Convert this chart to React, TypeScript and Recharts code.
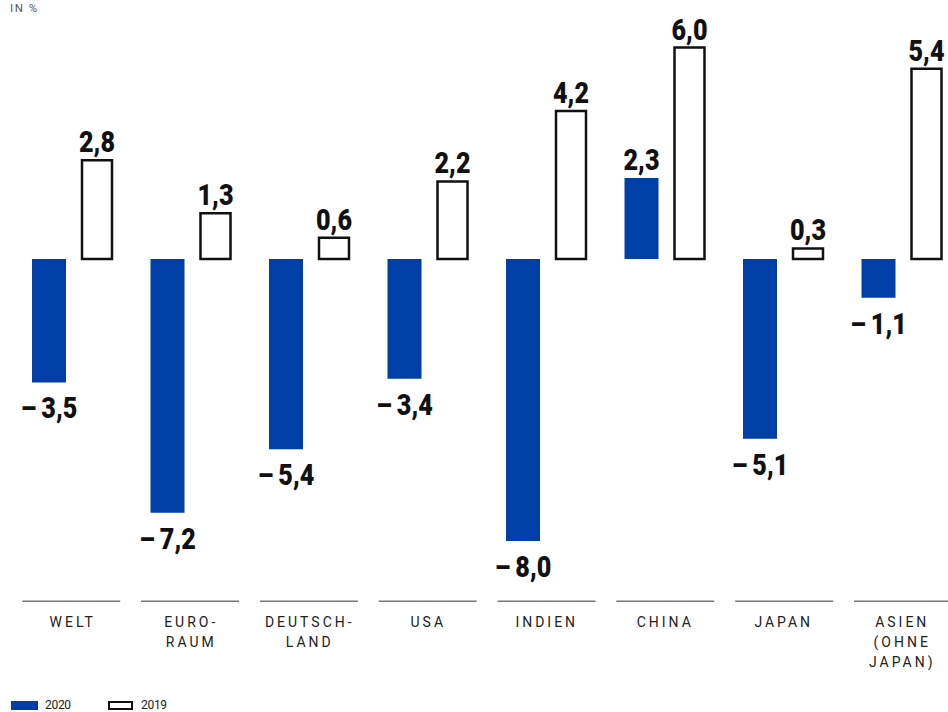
import React from 'react';
import { BarChart, Bar, XAxis, YAxis, Legend, LabelList } from 'recharts';

const categories = ['WELT', 'EURO-\nRAUM', 'DEUTSCH-\nLAND', 'USA', 'INDIEN', 'CHINA', 'JAPAN', 'ASIEN\n(OHNE\nJAPAN)'];
const values2020 = [-3.5, -7.2, -5.4, -3.4, -8.0, 2.3, -5.1, -1.1];
const values2019 = [2.8, 1.3, 0.6, 2.2, 4.2, 6.0, 0.3, 5.4];
const seriesNames = ['2020', '2019'];

const BLUE = '#003fa6';
const FONT = 'Roboto, "Liberation Sans", sans-serif';

const data = categories.map((c, i) => ({ name: c, v2020: values2020[i], v2019: values2019[i] }));

const fmt = (v: number) => {
  const s = Math.abs(v).toFixed(1).replace('.', ',');
  return v < 0 ? '\u2013\u2009' + s : s;
};

// value label above positive bars, below negative ones (squeezed to look condensed)
const ValueLabel = (props: any) => {
  const { x, y, width, height, value } = props;
  const top = Math.min(y, y + height);
  const bottom = Math.max(y, y + height);
  const cx = x + width / 2;
  const ty = value < 0 ? bottom + 36 : top - 8;
  return (
    <g transform={`translate(${cx},${ty}) scale(0.84,1)`}>
      <text x={0} y={0} textAnchor="middle" fontFamily={FONT} fontWeight={900} fontSize={30} fill="#111">
        {fmt(value)}
      </text>
    </g>
  );
};

const CategoryTick = (props: any) => {
  const { x, y, payload, index } = props;
  const lines = String(payload.value).split('\n');
  const dx = (index || 0) * 0.32; // separators sit on a slightly wider pitch than the bars
  return (
    <g>
      <line x1={x - 50 + dx} x2={x + 48 + dx} y1={y + 25} y2={y + 25} stroke="#777" strokeWidth={1.5} />
      {lines.map((l, i) => (
        <text key={i} x={x + 0.5} y={y + 51 + i * 20} textAnchor="middle" fontFamily={FONT} fontSize={14} letterSpacing={3} fill="#222">
          {l}
        </text>
      ))}
    </g>
  );
};

const LegendContent = () => (
  <div style={{ display: 'flex', alignItems: 'center', fontFamily: FONT, fontSize: 12, color: '#222', letterSpacing: -0.3 }}>
    <svg width={27} height={9} style={{ marginRight: 7 }}>
      <rect x={0} y={0} width={27} height={9} fill={BLUE} />
    </svg>
    <span style={{ display: 'inline-block', width: 63 }}>{seriesNames[0]}</span>
    <svg width={25} height={9} style={{ marginRight: 8 }}>
      <rect x={1} y={1} width={23} height={7} fill="#fff" stroke="#111" strokeWidth={2} />
    </svg>
    <span>{seriesNames[1]}</span>
  </div>
);

export default function App() {
  return (
    <div style={{ position: 'fixed', left: 0, top: 0, width: 948, height: 712, overflow: 'hidden', background: '#fff' }}>
      <div style={{ position: 'absolute', left: 10, top: 1, fontFamily: FONT, fontSize: 11.5, color: '#555', letterSpacing: 1.5 }}>IN %</div>
      <BarChart
        width={961}
        height={712}
        data={data}
        margin={{ top: 12.25, right: 0, bottom: 0, left: 13 }}
        barGap={16}
      >
        <XAxis dataKey="name" axisLine={false} tickLine={false} tickSize={0} tickMargin={0} height={135.75} interval={0} tick={<CategoryTick />} />
        <YAxis hide domain={[-9, 7]} />
        <Legend
          layout="horizontal"
          verticalAlign="middle"
          align="center"
          wrapperStyle={{ top: 698, left: 11, width: 'auto', height: 'auto' }}
          content={<LegendContent />}
        />
        <Bar dataKey="v2020" name={seriesNames[0]} barSize={34} fill={BLUE} isAnimationActive={false}>
          <LabelList dataKey="v2020" content={<ValueLabel />} />
        </Bar>
        <Bar dataKey="v2019" name={seriesNames[1]} barSize={30} fill="#fff" stroke="#111" strokeWidth={2.5} isAnimationActive={false}>
          <LabelList dataKey="v2019" content={<ValueLabel />} />
        </Bar>
      </BarChart>
    </div>
  );
}
